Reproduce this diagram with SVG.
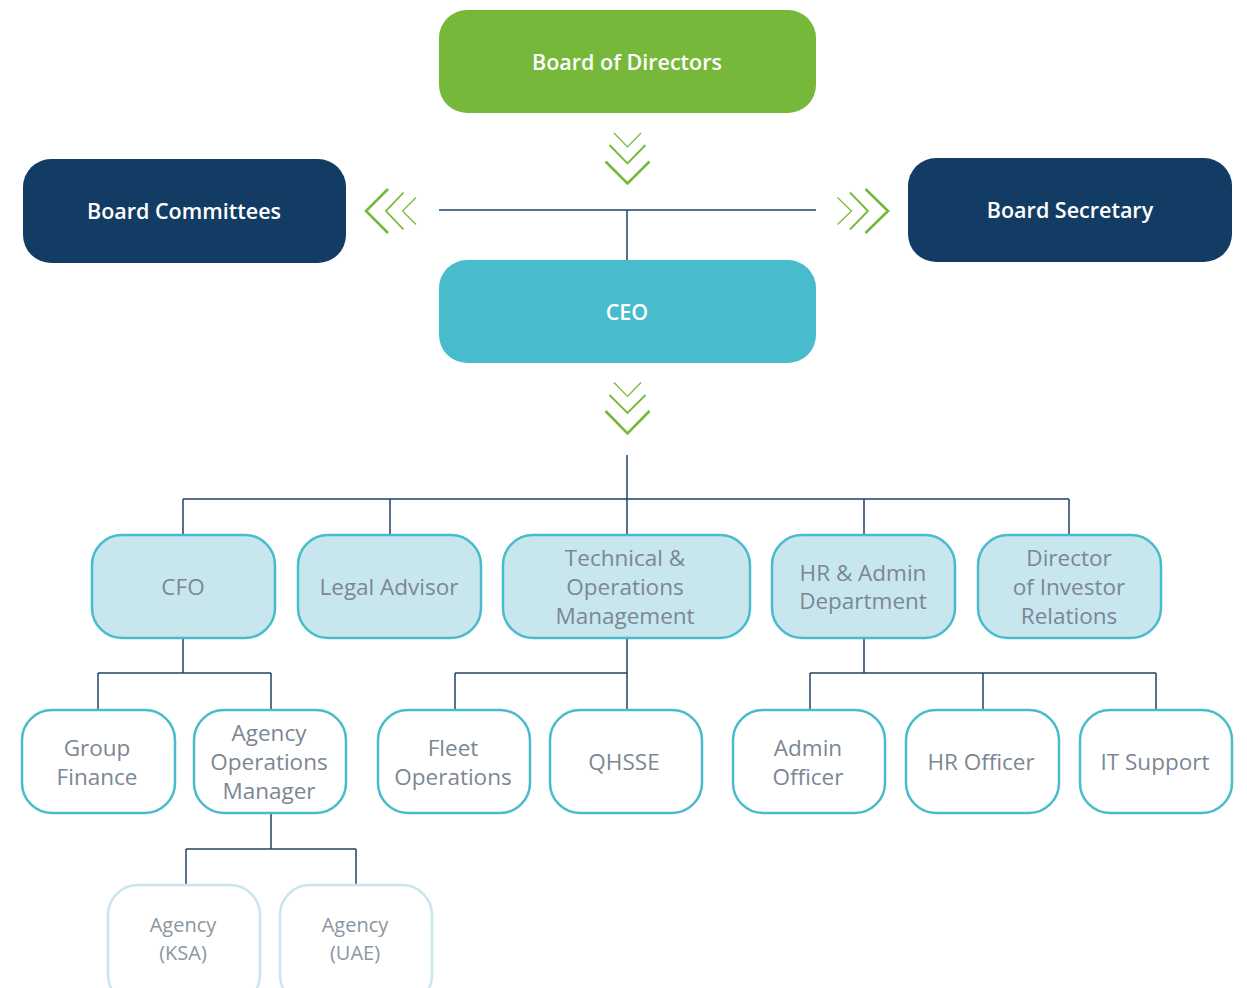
<svg xmlns="http://www.w3.org/2000/svg" width="1247" height="988" viewBox="0 0 1247 988">
<style>
.lbl{font-family:"Open Sans","Noto Sans",sans-serif;font-size:22.5px;text-anchor:middle}
.hd{fill:#ffffff;font-weight:600;font-size:21.5px}
.gr{fill:#7b8793}
.l2 rect{fill:#c8e6ee;stroke:#48bccd;stroke-width:2.5}
.l3 rect{fill:#ffffff;stroke:#48bccd;stroke-width:2.5}
.l4 rect{fill:#ffffff;stroke:#c9e6ee;stroke-width:2.5}
.l4 text{fill:#8a96a2;font-size:20px}
.con{fill:none;stroke:#1f4169;stroke-width:1.5}
.chev{fill:none;stroke:#76b83a}
</style>
<rect width="1247" height="988" fill="#ffffff"/>
<g id="connectors">
<path class="con" d="M439 210H816M627 210V260"/>
<path class="con" d="M627 455V499M183 499H1069M183 499V534M390 499V534M627 499V534M864 499V534M1069 499V534"/>
<path class="con" d="M183 638V673M98 673H271M98 673V710M271 673V710"/>
<path class="con" d="M627 638V710M455 673H627M455 673V710"/>
<path class="con" d="M864 638V673M810 673H1156M810 673V710M983 673V710M1156 673V710"/>
<path class="con" d="M271 813V849M186 849H356M186 849V885M356 849V885"/>
</g>
<g id="chevrons">
<g id="chev-top">
<polyline class="chev" stroke-width="1.2" points="614,133 627.5,147 641,133"/>
<polyline class="chev" stroke-width="1.8" points="609.5,145 627.5,163.5 645.5,145"/>
<polyline class="chev" stroke-width="2.6" points="605.5,161.5 627.5,183.5 649.5,161.5"/>
</g>
<g id="chev-mid">
<polyline class="chev" stroke-width="1.2" points="614,382.5 627.5,396.5 641,382.5"/>
<polyline class="chev" stroke-width="1.8" points="609.5,395 627.5,413 645.5,395"/>
<polyline class="chev" stroke-width="2.6" points="605.5,411 627.5,433.5 649.5,411"/>
</g>
<g id="chev-left">
<polyline class="chev" stroke-width="1.2" points="416,197.5 402.5,211 416,224.5"/>
<polyline class="chev" stroke-width="1.8" points="403.5,192.5 386,211 403.5,229.5"/>
<polyline class="chev" stroke-width="2.6" points="388,189 366,211 388,233"/>
</g>
<g id="chev-right">
<polyline class="chev" stroke-width="1.2" points="837.5,197.5 851.5,211 837.5,224.5"/>
<polyline class="chev" stroke-width="1.8" points="850,192.5 868,211 850,229.5"/>
<polyline class="chev" stroke-width="2.6" points="865.5,189 888,211 865.5,233"/>
</g>
</g>
<g id="board-of-directors">
<rect x="439" y="10" width="377" height="103" rx="28" fill="#76b83a"/>
<text class="lbl hd" x="627" y="69.5">Board of Directors</text>
</g>
<g id="board-committees">
<rect x="23" y="159" width="323" height="104" rx="28" fill="#133c65"/>
<text class="lbl hd" x="184" y="218.5">Board Committees</text>
</g>
<g id="board-secretary">
<rect x="908" y="158" width="324" height="104" rx="28" fill="#133c65"/>
<text class="lbl hd" x="1070" y="217.5">Board Secretary</text>
</g>
<g id="ceo">
<rect x="439" y="260" width="377" height="103" rx="28" fill="#48bccd"/>
<text class="lbl hd" x="627" y="319.5">CEO</text>
</g>
<g id="cfo" class="l2">
<rect x="92" y="535" width="183" height="103" rx="30"/>
<text class="lbl gr" x="183" y="595">CFO</text>
</g>
<g id="legal-advisor" class="l2">
<rect x="298" y="535" width="183" height="103" rx="30"/>
<text class="lbl gr" x="389" y="595">Legal Advisor</text>
</g>
<g id="technical-operations" class="l2">
<rect x="503" y="535" width="247" height="103" rx="30"/>
<text class="lbl gr" x="625" y="566">Technical &amp;</text>
<text class="lbl gr" x="625" y="595">Operations</text>
<text class="lbl gr" x="625" y="624">Management</text>
</g>
<g id="hr-admin" class="l2">
<rect x="772" y="535" width="183" height="103" rx="30"/>
<text class="lbl gr" x="863" y="581">HR &amp; Admin</text>
<text class="lbl gr" x="863" y="609">Department</text>
</g>
<g id="investor-relations" class="l2">
<rect x="978" y="535" width="183" height="103" rx="30"/>
<text class="lbl gr" x="1069" y="566">Director</text>
<text class="lbl gr" x="1069" y="595">of Investor</text>
<text class="lbl gr" x="1069" y="624">Relations</text>
</g>
<g id="group-finance" class="l3">
<rect x="22" y="710" width="153" height="103" rx="30"/>
<text class="lbl gr" x="97" y="756">Group</text>
<text class="lbl gr" x="97" y="785">Finance</text>
</g>
<g id="agency-ops-manager" class="l3">
<rect x="194" y="710" width="152" height="103" rx="30"/>
<text class="lbl gr" x="269" y="741">Agency</text>
<text class="lbl gr" x="269" y="770">Operations</text>
<text class="lbl gr" x="269" y="799">Manager</text>
</g>
<g id="fleet-operations" class="l3">
<rect x="378" y="710" width="152" height="103" rx="30"/>
<text class="lbl gr" x="453" y="756">Fleet</text>
<text class="lbl gr" x="453" y="785">Operations</text>
</g>
<g id="qhsse" class="l3">
<rect x="550" y="710" width="152" height="103" rx="30"/>
<text class="lbl gr" x="624" y="770">QHSSE</text>
</g>
<g id="admin-officer" class="l3">
<rect x="733" y="710" width="152" height="103" rx="30"/>
<text class="lbl gr" x="808" y="756">Admin</text>
<text class="lbl gr" x="808" y="785">Officer</text>
</g>
<g id="hr-officer" class="l3">
<rect x="906" y="710" width="153" height="103" rx="30"/>
<text class="lbl gr" x="981" y="770">HR Officer</text>
</g>
<g id="it-support" class="l3">
<rect x="1080" y="710" width="152" height="103" rx="30"/>
<text class="lbl gr" x="1155" y="770">IT Support</text>
</g>
<g id="agency-ksa" class="l4">
<rect x="108" y="885" width="152" height="120" rx="30"/>
<text class="lbl" x="183" y="932">Agency</text>
<text class="lbl" x="183" y="959.5">(KSA)</text>
</g>
<g id="agency-uae" class="l4">
<rect x="280" y="885" width="152" height="120" rx="30"/>
<text class="lbl" x="355" y="932">Agency</text>
<text class="lbl" x="355" y="959.5">(UAE)</text>
</g>
</svg>
